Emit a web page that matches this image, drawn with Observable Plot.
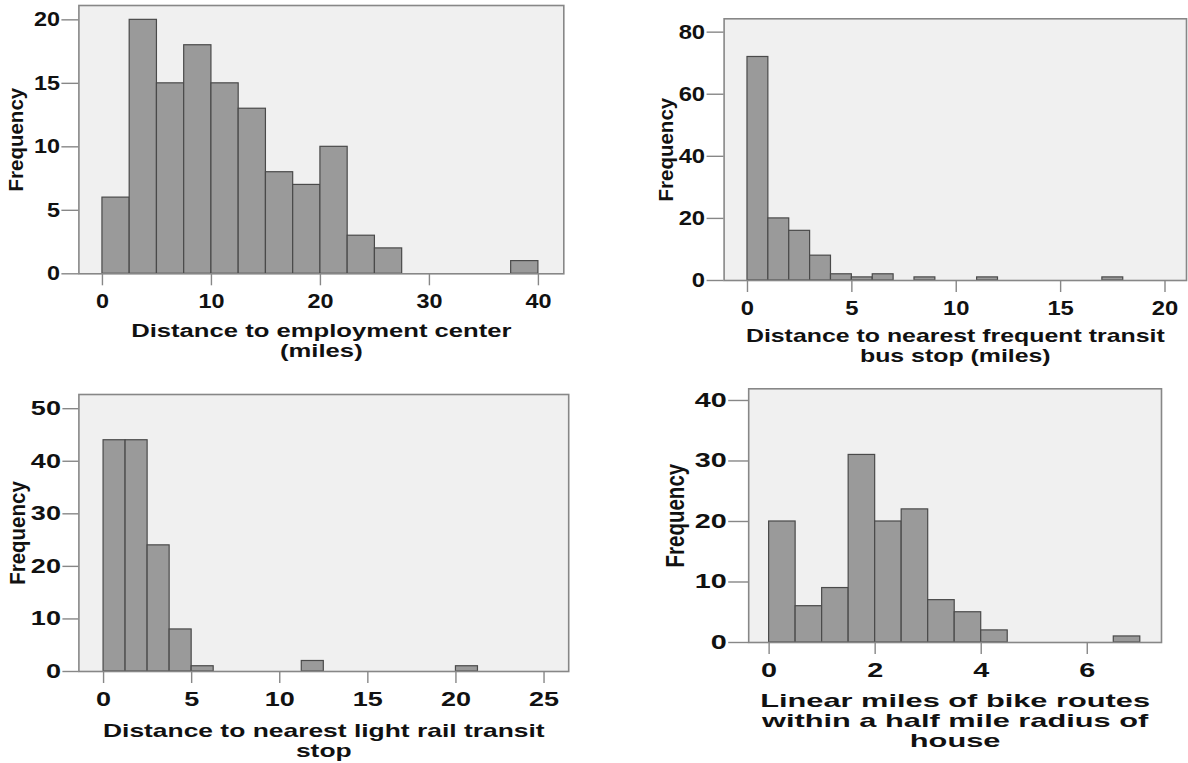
<!DOCTYPE html>
<html><head><meta charset="utf-8">
<script src="https://cdn.jsdelivr.net/npm/d3@7"></script>
<script src="https://cdn.jsdelivr.net/npm/@observablehq/plot@0.6"></script>
<style>
body{margin:0;background:#fff;}
#wrap{position:relative;width:1188px;height:763px;overflow:hidden;background:#fff;}
.panel{position:absolute;}
</style></head><body><div id="wrap"></div>
<script>
// ---- Data ----
const empBinStart = [0, 2.5, 5, 7.5, 10, 12.5, 15, 17.5, 20, 22.5, 25, 37.5];
const empCounts   = [6, 20, 15, 18, 15, 13, 8, 7, 10, 3, 2, 1];
const empBinWidth = 2.5;
const empXTicks = [0, 10, 20, 30, 40];
const empYTicks = [0, 5, 10, 15, 20];
const empTitle = "Distance to employment center\n(miles)";

const busBinStart = [0, 1, 2, 3, 4, 5, 6, 8, 11, 17];
const busCounts   = [72, 20, 16, 8, 2, 1, 2, 1, 1, 1];
const busBinWidth = 1;
const busXTicks = [0, 5, 10, 15, 20];
const busYTicks = [0, 20, 40, 60, 80];
const busTitle = "Distance to nearest frequent transit\nbus stop (miles)";

const railBinStart = [0, 1.25, 2.5, 3.75, 5, 11.25, 20];
const railCounts   = [44, 44, 24, 8, 1, 2, 1];
const railBinWidth = 1.25;
const railXTicks = [0, 5, 10, 15, 20, 25];
const railYTicks = [0, 10, 20, 30, 40, 50];
const railTitle = "Distance to nearest light rail transit\nstop";

const bikeBinStart = [0, 0.5, 1, 1.5, 2, 2.5, 3, 3.5, 4, 6.5];
const bikeCounts   = [20, 6, 9, 31, 20, 22, 7, 5, 2, 1];
const bikeBinWidth = 0.5;
const bikeXTicks = [0, 2, 4, 6];
const bikeYTicks = [0, 10, 20, 30, 40];
const bikeTitle = "Linear miles of bike routes\nwithin a half mile radius of\nhouse";

const yLabel = "Frequency";

// ---- Rendering ----
const FONT = "'Liberation Sans', Arial, Helvetica, sans-serif";

function stretchText(el, sx) {
  const x = +(el.getAttribute("x") || 0);
  const t = el.getAttribute("transform") || "";
  el.setAttribute("transform", `${t} translate(${x},0) scale(${sx},1) translate(${-x},0)`);
}

function panel(cfg) {
  const rows = cfg.starts.map((s, i) => ({x1: s, x2: s + cfg.bw, y0: 0, y: cfg.counts[i]}));
  const chart = Plot.plot({
    width: cfg.w, height: cfg.h,
    marginLeft: cfg.ml, marginRight: cfg.mr, marginTop: cfg.mt, marginBottom: cfg.mb,
    x: {domain: cfg.xd},
    y: {domain: cfg.yd},
    style: {fontFamily: FONT, fontWeight: "bold", fontSize: "20px",
            background: "transparent", color: "#111", overflow: "visible"},
    marks: [
      Plot.frame({fill: "#f0f0f0", stroke: null}),
      Plot.rect(rows, {x1: "x1", x2: "x2", y1: "y0", y2: "y", fill: "#9a9a9a", stroke: "#4a4a4a", strokeWidth: 1.2}),
      Plot.frame({stroke: "#878787", strokeWidth: 1.6}),
      Plot.axisY({ticks: cfg.yt, tickSize: cfg.yts, tickPadding: 2, label: null, stroke: "#878787", strokeWidth: 1.4, fill: "#111"}),
      Plot.axisX({ticks: cfg.xt, tickSize: 12, tickPadding: 8, label: null, stroke: "#878787", strokeWidth: 1.4, fill: "#111"}),
      Plot.text([yLabel], {frameAnchor: "left", rotate: -90, dx: cfg.ydx, textAnchor: "middle", lineAnchor: "middle",
        fontSize: 20.5, fill: "#111"}),
      Plot.text([cfg.title], {frameAnchor: "bottom", dy: cfg.tdy, lineAnchor: "top", lineHeight: 20 / 19,
        textAnchor: "middle", fontSize: 19, fill: "#111"})
    ]
  });
  // horizontal stretch of the lettering, as in the reference picture
  chart.querySelectorAll('g[aria-label="x-axis tick label"] text, g[aria-label="y-axis tick label"] text')
    .forEach(el => stretchText(el, cfg.tickSx));
  const textGroups = chart.querySelectorAll('g[aria-label="text"]');
  // first text mark: "Frequency" (rotated); second: axis title
  if (textGroups[0]) textGroups[0].querySelectorAll("text").forEach(el => {
    const t = el.getAttribute("transform") || "";
    if (t.includes("rotate(")) el.setAttribute("transform", t.replace("rotate(", `scale(${cfg.ySx},1) rotate(`));
  });
  if (textGroups[1]) textGroups[1].querySelectorAll("text").forEach(el => stretchText(el, cfg.titleSx));
  const div = document.createElement("div");
  div.className = "panel";
  div.style.left = cfg.left + "px";
  div.style.top = cfg.top + "px";
  div.style.width = cfg.w + "px";
  div.style.height = cfg.h + "px";
  div.appendChild(chart);
  document.getElementById("wrap").appendChild(div);
}

panel({starts: empBinStart, counts: empCounts, bw: empBinWidth, xt: empXTicks, yt: empYTicks, title: empTitle,
  left: 0, top: 0, w: 594, h: 380, ml: 78.4, mr: 30.7, mt: 5, mb: 106.7,
  xd: [-2.16, 42.33], yd: [0, 21.13], ydx: -62.4, tdy: 49.2, yts: 17,
  tickSx: 1.17, titleSx: 1.35, ySx: 1.0});

panel({starts: busBinStart, counts: busCounts, bw: busBinWidth, xt: busXTicks, yt: busYTicks, title: busTitle,
  left: 594, top: 0, w: 594, h: 380, ml: 129.6, mr: 2, mt: 18.3, mb: 100,
  xd: [-1.12, 21.03], yd: [0, 84.3], ydx: -57.6, tdy: 47.5, yts: 17,
  tickSx: 1.19, titleSx: 1.31, ySx: 1.0});

panel({starts: railBinStart, counts: railCounts, bw: railBinWidth, xt: railXTicks, yt: railYTicks, title: railTitle,
  left: 0, top: 380, w: 594, h: 383, ml: 78.4, mr: 25.8, mt: 14, mb: 92,
  xd: [-1.40, 26.4], yd: [0, 52.7], ydx: -61.4, tdy: 51.5, yts: 16,
  tickSx: 1.35, titleSx: 1.39, ySx: 1.08});

panel({starts: bikeBinStart, counts: bikeCounts, bw: bikeBinWidth, xt: bikeXTicks, yt: bikeYTicks, title: bikeTitle,
  left: 594, top: 380, w: 594, h: 383, ml: 154.2, mr: 27, mt: 8.3, mb: 121,
  xd: [-0.385, 7.40], yd: [0, 41.93], ydx: -73.2, tdy: 50.5, yts: 20,
  tickSx: 1.44, titleSx: 1.62, ySx: 1.22});
</script>
</body></html>
